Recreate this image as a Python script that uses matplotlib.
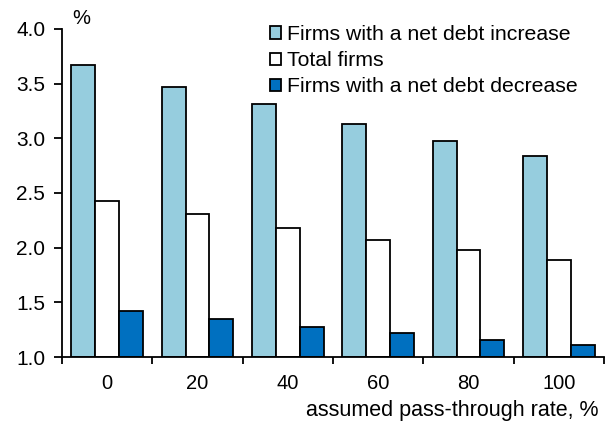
import matplotlib
matplotlib.use("Agg")
import matplotlib.pyplot as plt
import numpy as np

plt.rcParams['font.family'] = ['Liberation Sans', 'DejaVu Sans']

categories = ["0", "20", "40", "60", "80", "100"]
increase = [3.67, 3.47, 3.31, 3.13, 2.98, 2.84]
total = [2.43, 2.31, 2.18, 2.07, 1.98, 1.89]
decrease = [1.42, 1.35, 1.27, 1.22, 1.16, 1.11]
series_names = ["Firms with a net debt increase", "Total firms", "Firms with a net debt decrease"]
colors = ["#96CDDE", "#FFFFFF", "#0070C0"]

fig = plt.figure(figsize=(6.09, 4.23), dpi=100)
ax = fig.add_axes([62/609, 1 - 357/423, (604-62)/609, (357-29)/423])

x = np.arange(len(categories))
w = 0.265
for i, (vals, name, c) in enumerate(zip([increase, total, decrease], series_names, colors)):
    ax.bar(x + (i - 1) * w, np.array(vals) - 1.0, bottom=1.0, width=w, color=c,
           edgecolor="black", linewidth=1.3, label=name)

ax.set_xlim(-0.5, len(categories) - 0.5)
ax.set_ylim(1.0, 4.0)
ax.set_yticks([1.0, 1.5, 2.0, 2.5, 3.0, 3.5, 4.0])
ax.set_yticklabels(["1.0", "1.5", "2.0", "2.5", "3.0", "3.5", "4.0"], fontsize=15)
ax.set_xticks(x)
ax.set_xticklabels(categories, fontsize=14.5)
ax.set_xticks(np.arange(-0.5, len(categories)), minor=True)
ax.tick_params(axis='x', which='major', length=0, pad=12)
ax.tick_params(axis='x', which='minor', length=5, width=1.3, direction='out')
ax.tick_params(axis='y', length=6, width=1.3, direction='out', pad=6)
for s in ["top", "right"]:
    ax.spines[s].set_visible(False)
for s in ["left", "bottom"]:
    ax.spines[s].set_linewidth(1.3)

fig.text(72/609, 1 - 18/423, "%", fontsize=14.5, ha="left", va="center")
fig.text(598/609, 1 - 410/423, "assumed pass-through rate, %", fontsize=15.5, ha="right", va="center")

leg = ax.legend(loc="upper left", bbox_to_anchor=(270/609, 1 - 25/423), bbox_transform=fig.transFigure,
                frameon=False, fontsize=15.3, handlelength=0.5, handleheight=0.5,
                handletextpad=0.3, labelspacing=0.34, borderpad=0, borderaxespad=0)

fig.savefig("out.png", dpi=100)
